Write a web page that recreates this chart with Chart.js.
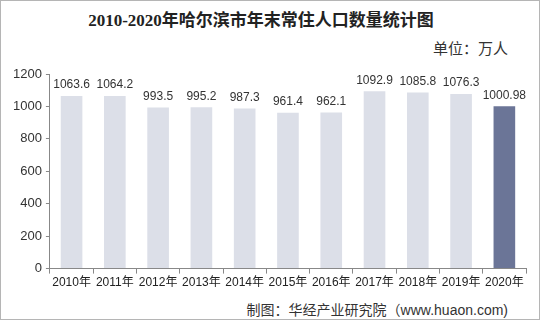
<!DOCTYPE html>
<html lang="zh">
<head>
<meta charset="UTF-8">
<title>2010-2020年哈尔滨市年末常住人口数量统计图</title>
<script src="https://cdn.jsdelivr.net/npm/chart.js"></script>
<style>
    html, body { margin: 0; padding: 0; background: #fff; }
    .frame {
        position: relative;
        width: 538px;
        height: 318px;
        border: 1px solid #b5b5b5;
        overflow: hidden;
        font-family: "Liberation Sans", Arial, "Noto Sans CJK SC", sans-serif;
    }
    .title {
        position: absolute; left: 0; top: 5px; width: 520px;
        text-align: center;
        font: bold 17px "Liberation Serif", "Noto Sans CJK SC", serif;
        color: #222;
    }
    .unit {
        position: absolute; right: 31px; top: 36px;
        font-size: 15px; color: #333;
    }
    .source {
        position: absolute; right: 31px; top: 298px;
        font-size: 14px; color: #333;
    }
    .plot { position: absolute; left: 0; top: 0; width: 538px; height: 318px; }
</style>
</head>
<body>
<div class="frame">
    <div class="title">2010-2020年哈尔滨市年末常住人口数量统计图</div>
    <div class="unit">单位：万人</div>
    <div class="source">制图：华经产业研究院（www.huaon.com)</div>
    <div class="plot"><canvas id="myChart"></canvas></div>
</div>
<script>
    const years = ['2010年', '2011年', '2012年', '2013年', '2014年', '2015年', '2016年', '2017年', '2018年', '2019年', '2020年'];
    const population = [1063.6, 1064.2, 993.5, 995.2, 987.3, 961.4, 962.1, 1092.9, 1085.8, 1076.3, 1000.98];
    const valueLabels = ['1063.6', '1064.2', '993.5', '995.2', '987.3', '961.4', '962.1', '1092.9', '1085.8', '1076.3', '1000.98'];

    const barColors = population.map((v, i) => i === population.length - 1 ? '#6b7597' : '#dcdfe8');

    // draw the value above each bar
    const valueLabelPlugin = {
        id: 'valueLabels',
        afterDatasetsDraw(chart) {
            const ctx = chart.ctx;
            const meta = chart.getDatasetMeta(0);
            ctx.save();
            ctx.font = '12px "Liberation Sans", Arial, sans-serif';
            ctx.fillStyle = '#333';
            ctx.textAlign = 'center';
            ctx.textBaseline = 'bottom';
            meta.data.forEach((bar, i) => {
                ctx.fillText(valueLabels[i], bar.x, bar.y - 5);
            });
            ctx.restore();
        }
    };

    const ctx = document.getElementById('myChart').getContext('2d');
    new Chart(ctx, {
        type: 'bar',
        data: {
            labels: years,
            datasets: [{
                data: population,
                backgroundColor: barColors,
                categoryPercentage: 1.0,
                barPercentage: 0.5
            }]
        },
        options: {
            responsive: true,
            maintainAspectRatio: false,
            animation: false,
            layout: { padding: { top: 73, right: 13, bottom: 27, left: 8 } },
            plugins: {
                legend: { display: false },
                tooltip: { enabled: false }
            },
            scales: {
                x: {
                    grid: {
                        display: true,
                        drawOnChartArea: false,
                        offset: true,
                        tickLength: 5,
                        color: '#888'
                    },
                    border: { color: '#888' },
                    ticks: {
                        color: '#222',
                        padding: 2,
                        maxRotation: 0,
                        autoSkip: false,
                        font: { size: 12, family: '"Liberation Sans", Arial, "Noto Sans CJK SC", sans-serif' }
                    }
                },
                y: {
                    min: 0,
                    max: 1200,
                    grid: {
                        display: true,
                        drawOnChartArea: false,
                        tickLength: 4,
                        color: '#888'
                    },
                    border: { color: '#888' },
                    ticks: {
                        stepSize: 200,
                        color: '#333',
                        padding: 4,
                        callback: v => String(v),
                        font: { size: 13, family: '"Liberation Sans", Arial, sans-serif' }
                    }
                }
            }
        },
        plugins: [valueLabelPlugin]
    });
</script>
</body>
</html>
